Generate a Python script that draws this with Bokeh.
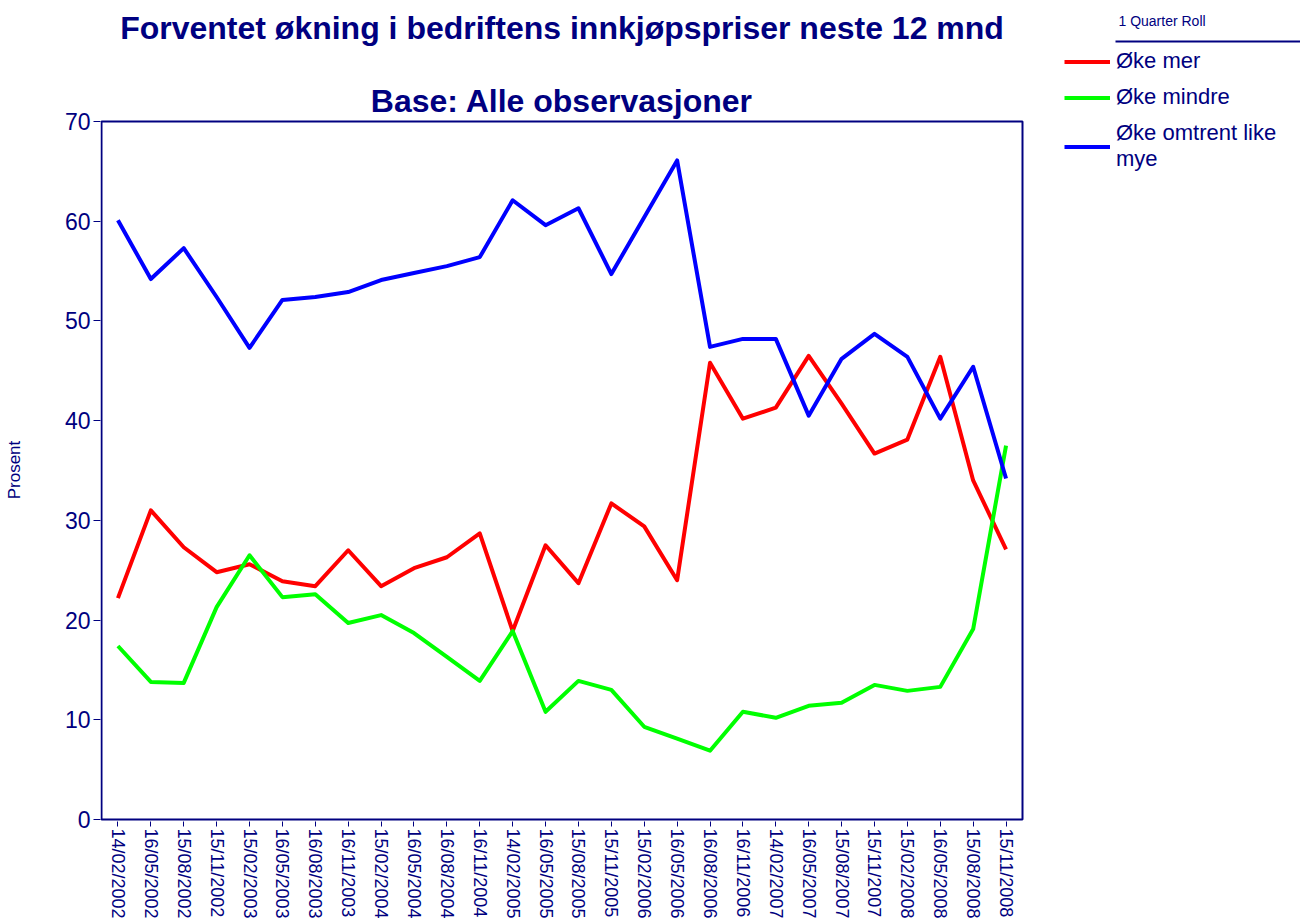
from bokeh.plotting import figure
from bokeh.models import (Range1d, FixedTicker, Legend, LegendItem, Label, BoxAnnotation)
from bokeh.embed import file_html
from bokeh.resources import INLINE

dates = ["14/02/2002", "16/05/2002", "15/08/2002", "15/11/2002", "15/02/2003",
         "16/05/2003", "16/08/2003", "16/11/2003", "15/02/2004", "16/05/2004",
         "16/08/2004", "16/11/2004", "14/02/2005", "16/05/2005", "15/08/2005",
         "15/11/2005", "15/02/2006", "16/05/2006", "16/08/2006", "16/11/2006",
         "14/02/2007", "16/05/2007", "15/08/2007", "15/11/2007", "15/02/2008",
         "16/05/2008", "15/08/2008", "15/11/2008"]

oke_mer = [22.2, 31.0, 27.3, 24.8, 25.6, 23.9, 23.4, 27.0, 23.4, 25.2,
           26.3, 28.7, 18.9, 27.5, 23.7, 31.7, 29.4, 24.0, 45.8, 40.2,
           41.3, 46.5, 41.7, 36.7, 38.1, 46.4, 34.0, 27.1]

oke_mindre = [17.4, 13.8, 13.7, 21.3, 26.5, 22.3, 22.6, 19.7, 20.5, 18.7,
              16.3, 13.9, 18.9, 10.8, 13.9, 13.0, 9.3, 8.1, 6.9, 10.8,
              10.2, 11.4, 11.7, 13.5, 12.9, 13.3, 19.1, 37.5]

oke_like = [60.1, 54.2, 57.3, 52.4, 47.3, 52.1, 52.4, 52.9, 54.1, 54.8,
            55.5, 56.4, 62.1, 59.6, 61.3, 54.7, 60.4, 66.1, 47.4, 48.2,
            48.2, 40.5, 46.2, 48.7, 46.4, 40.2, 45.4, 34.2]

series_labels = ["Øke mer", "Øke mindre", "Øke omtrent like\nmye"]
series_colors = ["#FF0000", "#00FF00", "#0000FF"]
y_ticks = [0, 10, 20, 30, 40, 50, 60, 70]
y_max = 70

title_main = "Forventet økning i bedriftens innkjøpspriser neste 12 mnd"
title_sub = "Base: Alle observasjoner"
legend_title = "1 Quarter Roll"
y_label = "Prosent"

NAVY = "#000080"
FONT = "Liberation Sans"

# ---- layout (page pixels) ----
W, H = 1300, 922
BOX_L, BOX_R, BOX_T, BOX_B = 101, 1022, 121, 819   # chart box
FR_L, FR_B = 100, 821                              # drawing area (frame) left / bottom
n = len(dates)
idx = list(range(n))
ux = n / (BOX_R - BOX_L)          # data units per pixel, x
uy = y_max / (BOX_B - BOX_T)      # data units per pixel, y


def xd(px):
    return -0.5 + (px - BOX_L) * ux


def yd(py):
    return (BOX_B - py) * uy


p = figure(width=W, height=H,
           x_range=Range1d(xd(FR_L), xd(W)), y_range=Range1d(yd(FR_B), yd(0)),
           output_backend="svg", toolbar_location=None, title=None,
           min_border_left=FR_L, min_border_top=0, min_border_right=0,
           min_border_bottom=H - FR_B)

p.background_fill_color = "white"
p.border_fill_color = "white"
p.outline_line_color = None
p.xgrid.visible = False
p.ygrid.visible = False

# chart box
p.add_layout(BoxAnnotation(left=-0.5, right=n - 0.5, bottom=0, top=y_max,
                           fill_alpha=0, line_color=NAVY, line_alpha=1, line_width=2))

renderers = []
for vals, col in zip([oke_mer, oke_mindre, oke_like], series_colors):
    renderers.append(p.line(idx, vals, line_color=col, line_width=4, line_join="round"))

# y axis
p.yaxis.ticker = FixedTicker(ticks=y_ticks)
p.yaxis.minor_tick_line_color = None
p.yaxis.major_tick_out = 7
p.yaxis.major_tick_in = 0
p.yaxis.major_tick_line_color = NAVY
p.yaxis.axis_line_color = None
p.yaxis.major_label_text_font = FONT
p.yaxis.major_label_text_font_size = "23px"
p.yaxis.major_label_text_color = NAVY
p.yaxis.major_label_standoff = 3
p.yaxis.axis_label = y_label + "\u00a0" * 25
p.yaxis.axis_label_text_font = FONT
p.yaxis.axis_label_text_font_size = "17px"
p.yaxis.axis_label_text_font_style = "normal"
p.yaxis.axis_label_text_color = NAVY
p.yaxis.axis_label_standoff = 38

# x axis
p.xaxis.ticker = FixedTicker(ticks=idx)
p.xaxis.major_label_overrides = {i: d for i, d in zip(idx, dates)}
p.xaxis.minor_tick_line_color = None
p.xaxis.major_label_orientation = "vertical"
p.xaxis.major_tick_out = 5
p.xaxis.major_tick_in = 0
p.xaxis.major_tick_line_color = NAVY
p.xaxis.axis_line_color = None
p.xaxis.major_label_text_font = FONT
p.xaxis.major_label_text_font_size = "18px"
p.xaxis.major_label_text_color = NAVY
p.xaxis.major_label_standoff = 2

# titles
cx = (n - 1) / 2
p.add_layout(Label(x=cx, y=yd(27), text=title_main, text_align="center",
                   text_baseline="middle", text_font=FONT, text_font_size="32px",
                   text_font_style="bold", text_color=NAVY))
p.add_layout(Label(x=cx, y=yd(100), text=title_sub, text_align="center",
                   text_baseline="middle", text_font=FONT, text_font_size="32px",
                   text_font_style="bold", text_color=NAVY))

# legend
items = [LegendItem(label=lab, renderers=[r]) for lab, r in zip(series_labels, renderers)]
legend = Legend(items=items, location=(1064 - FR_L, FR_B - 172),
                title="\u00a0" * 14 + legend_title, title_text_font=FONT,
                title_text_font_size="14px", title_text_font_style="normal",
                title_text_color=NAVY, title_standoff=19,
                label_text_font=FONT, label_text_font_size="22px",
                label_text_color=NAVY, glyph_width=46, glyph_height=25,
                label_height=25, label_standoff=6, spacing=10,
                padding=0, margin=0, border_line_alpha=0,
                background_fill_alpha=0)
p.add_layout(legend, "center")

# rule under the legend heading
p.add_layout(BoxAnnotation(left=xd(1115), right=xd(W + 5), top=yd(40), bottom=yd(42),
                           fill_color=NAVY, fill_alpha=1, line_alpha=0))

open("out.html", "w").write(file_html(p, INLINE))
